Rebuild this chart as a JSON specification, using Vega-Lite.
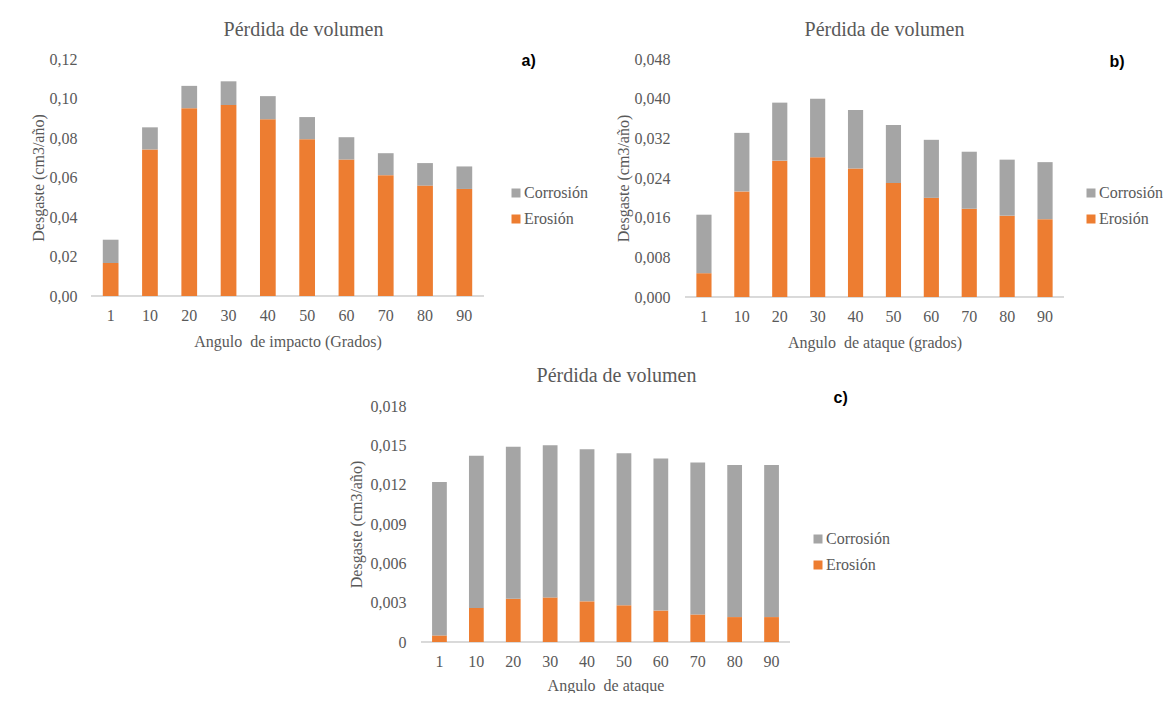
{
  "$schema": "https://vega.github.io/schema/vega-lite/v6.json",
  "padding": {"left": 30, "top": 20, "right": 0, "bottom": 0},
  "background": "white",
  "datasets": {
    "a": [
      {"angulo": 1, "tipo": "Erosión", "valor": 0.0167}, {"angulo": 1, "tipo": "Corrosión", "valor": 0.0118},
      {"angulo": 10, "tipo": "Erosión", "valor": 0.0742}, {"angulo": 10, "tipo": "Corrosión", "valor": 0.0112},
      {"angulo": 20, "tipo": "Erosión", "valor": 0.0951}, {"angulo": 20, "tipo": "Corrosión", "valor": 0.0113},
      {"angulo": 30, "tipo": "Erosión", "valor": 0.0967}, {"angulo": 30, "tipo": "Corrosión", "valor": 0.0120},
      {"angulo": 40, "tipo": "Erosión", "valor": 0.0895}, {"angulo": 40, "tipo": "Corrosión", "valor": 0.0117},
      {"angulo": 50, "tipo": "Erosión", "valor": 0.0794}, {"angulo": 50, "tipo": "Corrosión", "valor": 0.0112},
      {"angulo": 60, "tipo": "Erosión", "valor": 0.0691}, {"angulo": 60, "tipo": "Corrosión", "valor": 0.0113},
      {"angulo": 70, "tipo": "Erosión", "valor": 0.0612}, {"angulo": 70, "tipo": "Corrosión", "valor": 0.0111},
      {"angulo": 80, "tipo": "Erosión", "valor": 0.0559}, {"angulo": 80, "tipo": "Corrosión", "valor": 0.0114},
      {"angulo": 90, "tipo": "Erosión", "valor": 0.0542}, {"angulo": 90, "tipo": "Corrosión", "valor": 0.0114}
    ],
    "b": [
      {"angulo": 1, "tipo": "Erosión", "valor": 0.0048}, {"angulo": 1, "tipo": "Corrosión", "valor": 0.0118},
      {"angulo": 10, "tipo": "Erosión", "valor": 0.0213}, {"angulo": 10, "tipo": "Corrosión", "valor": 0.0118},
      {"angulo": 20, "tipo": "Erosión", "valor": 0.0275}, {"angulo": 20, "tipo": "Corrosión", "valor": 0.0117},
      {"angulo": 30, "tipo": "Erosión", "valor": 0.0282}, {"angulo": 30, "tipo": "Corrosión", "valor": 0.0118},
      {"angulo": 40, "tipo": "Erosión", "valor": 0.0259}, {"angulo": 40, "tipo": "Corrosión", "valor": 0.0118},
      {"angulo": 50, "tipo": "Erosión", "valor": 0.0230}, {"angulo": 50, "tipo": "Corrosión", "valor": 0.0117},
      {"angulo": 60, "tipo": "Erosión", "valor": 0.0200}, {"angulo": 60, "tipo": "Corrosión", "valor": 0.0117},
      {"angulo": 70, "tipo": "Erosión", "valor": 0.0178}, {"angulo": 70, "tipo": "Corrosión", "valor": 0.0115},
      {"angulo": 80, "tipo": "Erosión", "valor": 0.0164}, {"angulo": 80, "tipo": "Corrosión", "valor": 0.0113},
      {"angulo": 90, "tipo": "Erosión", "valor": 0.0157}, {"angulo": 90, "tipo": "Corrosión", "valor": 0.0115}
    ],
    "c": [
      {"angulo": 1, "tipo": "Erosión", "valor": 0.0005}, {"angulo": 1, "tipo": "Corrosión", "valor": 0.0117},
      {"angulo": 10, "tipo": "Erosión", "valor": 0.0026}, {"angulo": 10, "tipo": "Corrosión", "valor": 0.0116},
      {"angulo": 20, "tipo": "Erosión", "valor": 0.0033}, {"angulo": 20, "tipo": "Corrosión", "valor": 0.0116},
      {"angulo": 30, "tipo": "Erosión", "valor": 0.0034}, {"angulo": 30, "tipo": "Corrosión", "valor": 0.0116},
      {"angulo": 40, "tipo": "Erosión", "valor": 0.0031}, {"angulo": 40, "tipo": "Corrosión", "valor": 0.0116},
      {"angulo": 50, "tipo": "Erosión", "valor": 0.0028}, {"angulo": 50, "tipo": "Corrosión", "valor": 0.0116},
      {"angulo": 60, "tipo": "Erosión", "valor": 0.0024}, {"angulo": 60, "tipo": "Corrosión", "valor": 0.0116},
      {"angulo": 70, "tipo": "Erosión", "valor": 0.0021}, {"angulo": 70, "tipo": "Corrosión", "valor": 0.0116},
      {"angulo": 80, "tipo": "Erosión", "valor": 0.0019}, {"angulo": 80, "tipo": "Corrosión", "valor": 0.0116},
      {"angulo": 90, "tipo": "Erosión", "valor": 0.0019}, {"angulo": 90, "tipo": "Corrosión", "valor": 0.0116}
    ]
  },
  "vconcat": [
    {
      "hconcat": [
        {
          "width": 393,
          "height": 237,
          "title": {"text": "Pérdida de volumen", "dx": 16, "offset": 11},
          "data": {"name": "a"},
          "layer": [
            {
              "mark": {"type": "rule", "color": "#d9d9d9"},
              "encoding": {
                "y": {
                  "datum": 0,
                  "type": "quantitative",
                  "scale": {"domain": [0, 0.12]},
                  "axis": {"orient": "right", "title": "a)", "labels": false, "grid": false, "titleAngle": 0, "titleX": 37, "titleY": 1.5, "titleAlign": "left", "titleBaseline": "middle", "titleFont": "Liberation Sans, Arial, sans-serif", "titleFontWeight": "bold", "titleFontSize": 16, "titleColor": "#000000"}
                }
              }
            },
            {
              "mark": {"type": "bar"},
              "encoding": {
                "x": {"field": "angulo", "type": "ordinal", "title": "Angulo\u00a0 de impacto (Grados)", "scale": {"paddingInner": 0.6, "paddingOuter": 0.3}, "axis": {"labelAngle": 0, "labelPadding": 11, "titlePadding": 10}},
                "y": {"field": "valor", "type": "quantitative", "stack": "zero", "scale": {"domain": [0, 0.12]}, "title": "Desgaste (cm3/año)", "axis": {"values": [0, 0.02, 0.04, 0.06, 0.08, 0.1, 0.12], "format": ".2f", "labelPadding": 14, "titlePadding": 3}},
                "color": {"field": "tipo", "type": "nominal", "scale": {"domain": ["Corrosión", "Erosión"], "range": ["#A5A5A5", "#ED7D31"]}, "legend": {"title": null, "legendX": 417, "legendY": 126}},
                "order": {"field": "tipo", "sort": "descending"}
              }
            }
          ],
          "resolve": {"axis": {"y": "independent"}}
        },
        {
          "width": 379,
          "height": 238,
          "title": {"text": "Pérdida de volumen", "dx": 10, "offset": 11},
          "data": {"name": "b"},
          "layer": [
            {
              "mark": {"type": "rule", "color": "#d9d9d9"},
              "encoding": {
                "y": {
                  "datum": 0,
                  "type": "quantitative",
                  "scale": {"domain": [0, 0.048]},
                  "axis": {"orient": "right", "title": "b)", "labels": false, "grid": false, "titleAngle": 0, "titleX": 45, "titleY": 2.5, "titleAlign": "left", "titleBaseline": "middle", "titleFont": "Liberation Sans, Arial, sans-serif", "titleFontWeight": "bold", "titleFontSize": 16, "titleColor": "#000000"}
                }
              }
            },
            {
              "mark": {"type": "bar"},
              "encoding": {
                "x": {"field": "angulo", "type": "ordinal", "title": "Angulo\u00a0 de ataque (grados)", "scale": {"paddingInner": 0.6, "paddingOuter": 0.3}, "axis": {"labelAngle": 0, "labelPadding": 11, "titlePadding": 10}},
                "y": {"field": "valor", "type": "quantitative", "stack": "zero", "scale": {"domain": [0, 0.048]}, "title": "Desgaste (cm3/año)", "axis": {"values": [0, 0.008, 0.016, 0.024, 0.032, 0.04, 0.048], "format": ".3f", "labelPadding": 15, "titlePadding": 3}},
                "color": {"field": "tipo", "type": "nominal", "scale": {"domain": ["Corrosión", "Erosión"], "range": ["#A5A5A5", "#ED7D31"]}, "legend": {"title": null, "legendX": 398, "legendY": 126}},
                "order": {"field": "tipo", "sort": "descending"}
              }
            }
          ],
          "resolve": {"axis": {"y": "independent"}}
        }
      ],
      "spacing": 27,
      "resolve": {"legend": {"color": "independent"}, "scale": {"color": "independent"}}
    },
    {
      "hconcat": [
        {
          "width": 257,
          "height": 10,
          "data": {"values": []},
          "mark": "point",
          "view": {"fill": "white", "stroke": null}
        },
        {
          "width": 369,
          "height": 236,
          "title": {"text": "Pérdida de volumen", "dx": 11, "offset": 3.7},
          "data": {"name": "c"},
          "layer": [
            {
              "mark": {"type": "rule", "color": "#d9d9d9"},
              "encoding": {
                "y": {
                  "datum": 0,
                  "type": "quantitative",
                  "scale": {"domain": [0, 0.018]},
                  "axis": {"orient": "right", "title": "c)", "labels": false, "grid": false, "titleAngle": 0, "titleX": 43, "titleY": -8.5, "titleAlign": "left", "titleBaseline": "middle", "titleFont": "Liberation Sans, Arial, sans-serif", "titleFontWeight": "bold", "titleFontSize": 16, "titleColor": "#000000"}
                }
              }
            },
            {
              "mark": {"type": "bar"},
              "encoding": {
                "x": {"field": "angulo", "type": "ordinal", "title": "Angulo\u00a0 de ataque", "scale": {"paddingInner": 0.6, "paddingOuter": 0.3}, "axis": {"labelAngle": 0, "labelPadding": 11, "titlePadding": 8}},
                "y": {"field": "valor", "type": "quantitative", "stack": "zero", "scale": {"domain": [0, 0.018]}, "title": "Desgaste (cm3/año)", "axis": {"values": [0, 0.003, 0.006, 0.009, 0.012, 0.015, 0.018], "labelExpr": "datum.value === 0 ? '0' : format(datum.value, '.3f')", "labelPadding": 15, "titlePadding": 6}},
                "color": {"field": "tipo", "type": "nominal", "scale": {"domain": ["Corrosión", "Erosión"], "range": ["#A5A5A5", "#ED7D31"]}, "legend": {"title": null, "legendX": 389, "legendY": 125}},
                "order": {"field": "tipo", "sort": "descending"}
              }
            }
          ],
          "resolve": {"axis": {"y": "independent"}}
        }
      ],
      "spacing": 0,
      "resolve": {"legend": {"color": "independent"}, "scale": {"color": "independent"}}
    }
  ],
  "spacing": 15,
  "resolve": {"legend": {"color": "independent"}, "scale": {"color": "independent"}},
  "config": {
    "locale": {"number": {"decimal": ",", "thousands": ".", "grouping": [3], "currency": ["", "\u00a0€"]}},
    "view": {"stroke": null},
    "font": "Liberation Serif, Times New Roman, DejaVu Serif, serif",
    "axis": {"labelFont": "Liberation Serif, Times New Roman, DejaVu Serif, serif", "labelFontSize": 16, "labelColor": "#595959", "titleFont": "Liberation Serif, Times New Roman, DejaVu Serif, serif", "titleFontSize": 16, "titleColor": "#595959", "titleFontWeight": "normal", "ticks": false, "domain": false, "gridColor": "#d9d9d9", "gridWidth": 1},
    "legend": {"orient": "none", "labelFont": "Liberation Serif, Times New Roman, DejaVu Serif, serif", "labelFontSize": 16, "labelColor": "#595959", "symbolType": "square", "symbolSize": 81, "symbolStrokeWidth": 0, "rowPadding": 10, "labelOffset": 0},
    "title": {"font": "Liberation Serif, Times New Roman, DejaVu Serif, serif", "fontSize": 20, "fontWeight": "normal", "color": "#595959", "frame": "group", "anchor": "middle"}
  }
}
